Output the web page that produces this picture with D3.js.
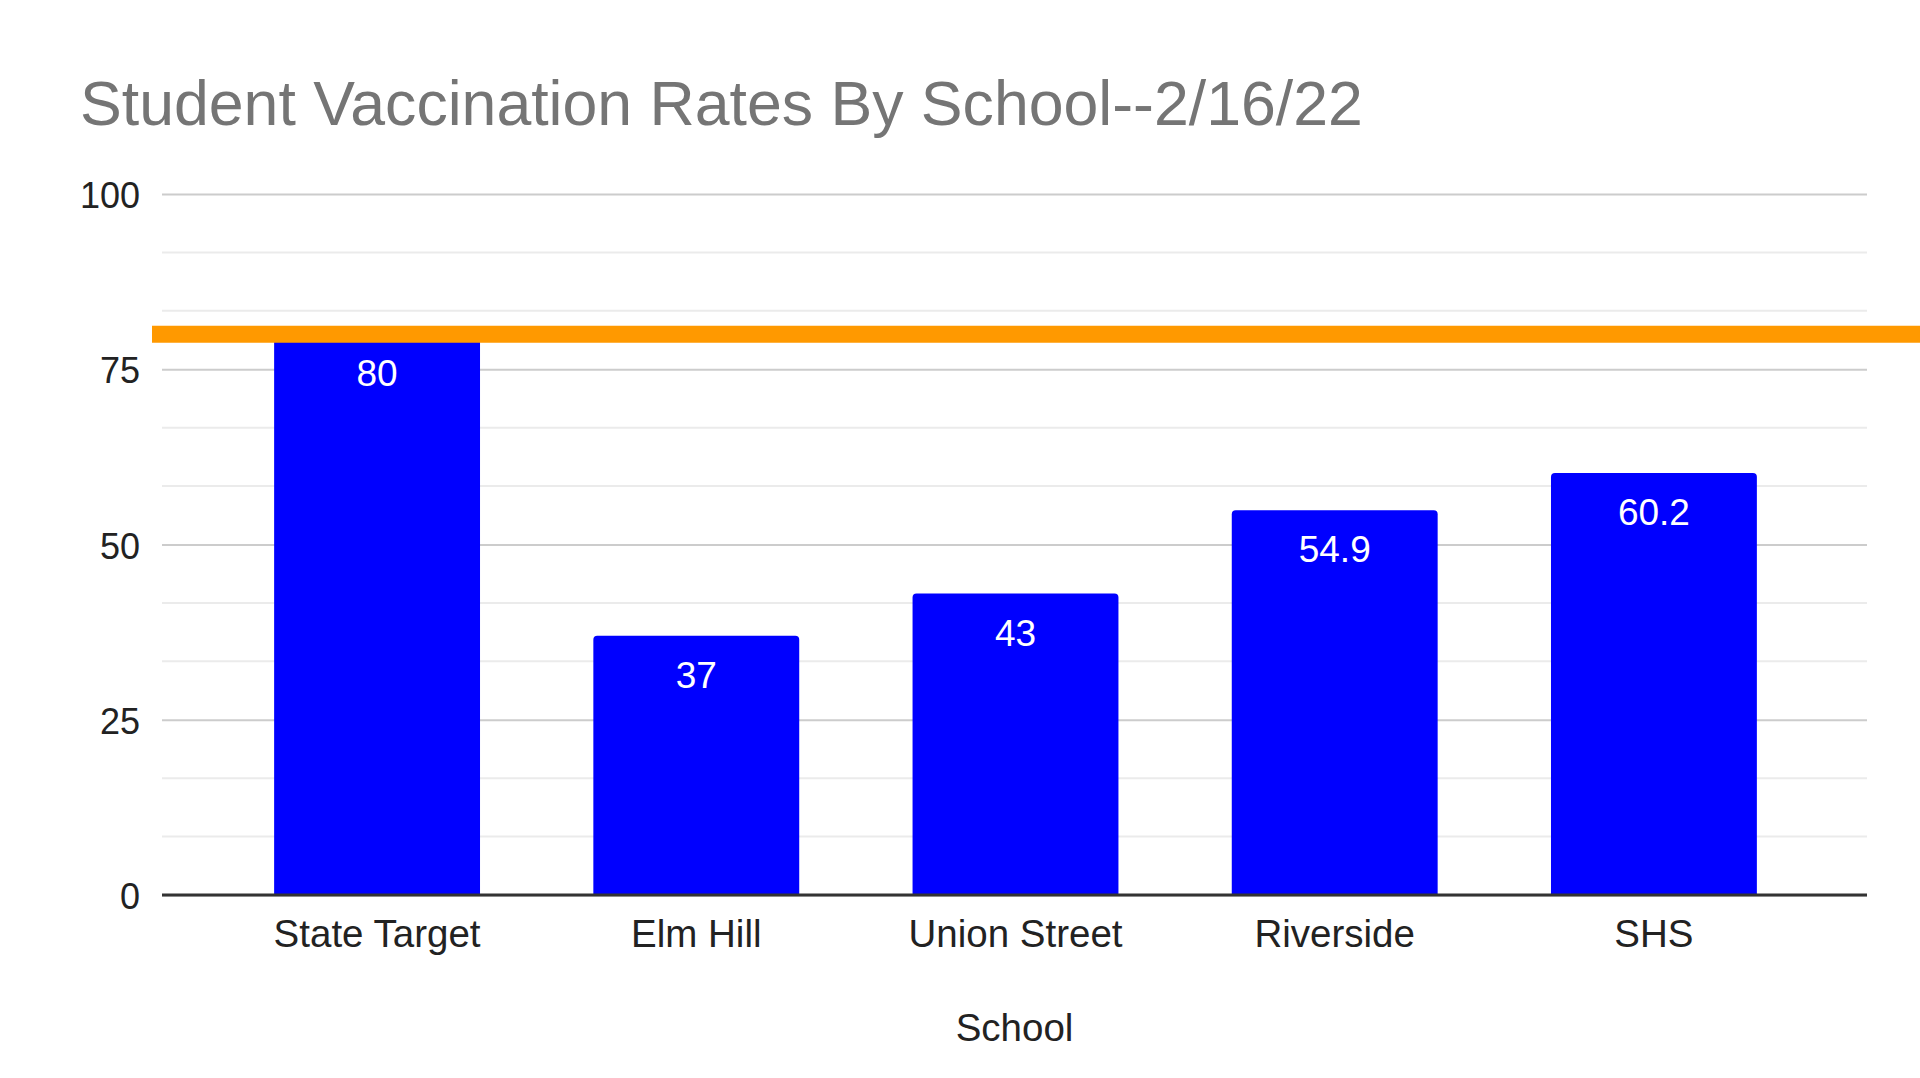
<!DOCTYPE html>
<html>
<head>
<meta charset="utf-8">
<script src="https://d3js.org/d3.v7.min.js"></script>
<style>
    body { margin: 0; background: #fff; }
    svg { display: block; font-family: "Liberation Sans", Arial, sans-serif; }
</style>
</head>
<body>
<svg id="chart"></svg>
<script>
// chart data
var schools = ["State Target", "Elm Hill", "Union Street", "Riverside", "SHS"];
var rates = [80, 37, 43, 54.9, 60.2];
var valueLabels = ["80", "37", "43", "54.9", "60.2"];
var majorTicks = [0, 25, 50, 75, 100];
var targetRate = 80;

var width = 1920,
    height = 1078;

var margin = {left: 162, right: 53, top: 194, bottom: 183};

var svg = d3.select("#chart")
    .attr("width", width)
    .attr("height", height);

var x = d3.scaleBand()
    .domain(schools)
    .range([margin.left + 2, width - margin.right])
    .paddingInner(0.355)
    .paddingOuter(0.345);

var y = d3.scaleLinear()
    .domain([0, 100])
    .range([height - margin.bottom, margin.top]);

// minor gridlines, three per major step
var minorTicks = d3.range(0, 100, 25 / 3).filter(function(d) {
    return majorTicks.indexOf(Math.round(d)) === -1;
});

svg.append("g")
    .selectAll("line")
    .data(minorTicks)
    .enter().append("line")
    .attr("x1", margin.left)
    .attr("x2", width - margin.right)
    .attr("y1", function(d) { return y(d); })
    .attr("y2", function(d) { return y(d); })
    .attr("stroke", "#ebebeb")
    .attr("stroke-width", 2);

// major gridlines + y labels
var yAxis = d3.axisLeft(y)
    .tickValues(majorTicks)
    .tickSize(-(width - margin.left - margin.right))
    .tickPadding(22);

svg.append("g")
    .attr("transform", "translate(" + margin.left + ",0)")
    .call(yAxis)
    .call(function(g) {
        g.select(".domain").remove();
        g.selectAll(".tick line").attr("stroke", "#cccccc").attr("stroke-width", 2);
        g.selectAll(".tick text")
            .attr("fill", "#222")
            .attr("dy", "0.38em")
            .style("font-size", "36px")
            .style("font-family", "Liberation Sans, Arial, sans-serif");
    });

// bars with slightly rounded tops
var r = 4;
var barPath = function(d, i) {
    var x0 = x(schools[i]), w = x.bandwidth(), y0 = y(d), y1 = y(0);
    return "M" + x0 + "," + y1 +
        "V" + (y0 + r) +
        "Q" + x0 + "," + y0 + " " + (x0 + r) + "," + y0 +
        "H" + (x0 + w - r) +
        "Q" + (x0 + w) + "," + y0 + " " + (x0 + w) + "," + (y0 + r) +
        "V" + y1 + "Z";
};

svg.append("g")
    .selectAll("path")
    .data(rates)
    .enter().append("path")
    .attr("d", barPath)
    .attr("fill", "#0000ff");

// baseline
svg.append("line")
    .attr("x1", margin.left)
    .attr("x2", width - margin.right)
    .attr("y1", y(0))
    .attr("y2", y(0))
    .attr("stroke", "#333")
    .attr("stroke-width", 3);

// x axis labels
var xAxis = d3.axisBottom(x).tickSize(0).tickPadding(25);

svg.append("g")
    .attr("transform", "translate(0," + y(0) + ")")
    .call(xAxis)
    .call(function(g) {
        g.select(".domain").remove();
        g.selectAll(".tick text")
            .attr("fill", "#222")
            .style("font-size", "38.5px")
            .style("font-family", "Liberation Sans, Arial, sans-serif");
    });

// state target line
svg.append("line")
    .attr("x1", margin.left - 10)
    .attr("x2", width)
    .attr("y1", y(targetRate))
    .attr("y2", y(targetRate))
    .attr("stroke", "#ff9900")
    .attr("stroke-width", 17);

// value labels inside the bars
svg.append("g")
    .selectAll("text")
    .data(rates)
    .enter().append("text")
    .attr("x", function(d, i) { return x(schools[i]) + x.bandwidth() / 2; })
    .attr("y", function(d) { return y(d) + 52; })
    .attr("text-anchor", "middle")
    .attr("fill", "#fff")
    .style("font-size", "37px")
    .text(function(d, i) { return valueLabels[i]; });

// title
svg.append("text")
    .attr("x", 80)
    .attr("y", 125)
    .attr("fill", "#757575")
    .style("font-size", "62.6px")
    .text("Student Vaccination Rates By School--2/16/22");

// x axis title
svg.append("text")
    .attr("x", (margin.left + width - margin.right) / 2)
    .attr("y", 1041)
    .attr("text-anchor", "middle")
    .attr("fill", "#222")
    .style("font-size", "38.5px")
    .text("School");
</script>
</body>
</html>
